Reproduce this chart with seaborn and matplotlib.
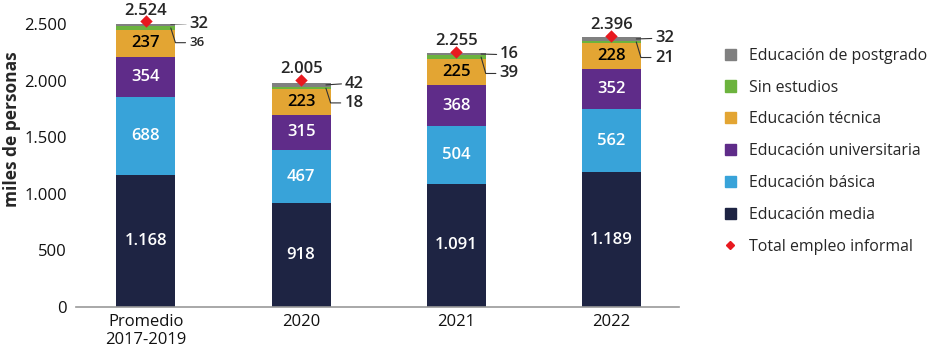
import numpy as np
import pandas as pd
import matplotlib.pyplot as plt
import seaborn as sns
from matplotlib.lines import Line2D
from matplotlib.patches import Patch

# datos (miles de personas)
periods = ["Promedio\n2017-2019", "2020", "2021", "2022"]
media = [1168, 918, 1091, 1189]
basica = [688, 467, 504, 562]
univ = [354, 315, 368, 352]
tecnica = [237, 223, 225, 228]
sin_est = [36, 18, 39, 21]
postgrado = [32, 42, 16, 32]
total = [2524, 2005, 2255, 2396]

layers = [
    ("Educación media", media, "#1e2443", "white"),
    ("Educación básica", basica, "#38a3d9", "white"),
    ("Educación universitaria", univ, "#5f2c89", "white"),
    ("Educación técnica", tecnica, "#e3a533", "black"),
    ("Sin estudios", sin_est, "#6cb33e", None),
    ("Educación de postgrado", postgrado, "#808080", None),
]

def fmt(v):
    return f"{v:,}".replace(",", ".")

sns.set_style("white")
plt.rcParams['font.family'] = ['Open Sans', 'DejaVu Sans']

fig = plt.figure(figsize=(9.3, 3.52), dpi=100)
ax = fig.add_axes([0.0812, 0.1278, 0.649, 0.804])

W = 0.38
FS = 12
cum = np.cumsum([l[1] for l in layers], axis=0)
# barras apiladas: se dibuja la suma acumulada de arriba hacia abajo
for i in range(len(layers) - 1, -1, -1):
    name, vals, col, tc = layers[i]
    sns.barplot(x=periods, y=cum[i], color=col, width=W, ax=ax,
                saturation=1, linewidth=0)

# etiquetas internas
for i, (name, vals, col, tc) in enumerate(layers[:4]):
    base = cum[i] - np.array(vals)
    for j, v in enumerate(vals):
        ax.text(j, base[j] + v / 2, fmt(v), ha="center", va="center",
                color=tc, fontsize=FS, fontweight="semibold")

# etiquetas pequeñas con líneas guía
edge = W / 2
for j in range(len(periods)):
    top = cum[5][j]
    y_pg = top - 12
    y_se = top - 180
    xe = j + edge
    ax.plot([xe - 0.03, xe + 0.07], [top - postgrado[j] / 2, y_pg], color="#333333", lw=0.8)
    ax.text(xe + 0.09, y_pg, fmt(postgrado[j]), ha="left", va="center",
            fontsize=FS, fontweight="semibold")
    ymid = cum[4][j] - sin_est[j] / 2
    ax.plot([xe - 0.03, xe + 0.0, xe + 0.065], [ymid, y_se, y_se], color="#333333", lw=0.8)
    ax.text(xe + 0.09, y_se, fmt(sin_est[j]), ha="left", va="center",
            fontsize=FS if j else 9.5, fontweight="semibold")

# total empleo informal
ax.scatter(np.arange(len(periods)), total, marker="D", s=40, color="#e8191f",
           zorder=5, clip_on=False, linewidths=0)
for j, t in enumerate(total):
    ax.text(j, t + 95, fmt(t), ha="center", va="center", fontsize=FS,
            fontweight="semibold", clip_on=False)

ax.set_xlim(-0.454, 3.436)
ax.set_ylim(0, 2500)
ax.set_yticks(np.arange(0, 2501, 500))
ax.set_yticklabels([fmt(v) for v in range(0, 2501, 500)])
ax.tick_params(axis="both", length=0, labelsize=12, colors="#111111")
ax.tick_params(axis="y", pad=6)
ax.tick_params(axis="x", pad=5)
ax.set_ylabel("miles de personas", fontsize=12.5, fontweight="bold")
ax.yaxis.set_label_coords(-0.091, 0.63)
ax.set_xlabel("")
sns.despine(ax=ax, left=True)
ax.spines["bottom"].set_color("#999999")
ax.spines["bottom"].set_linewidth(1.2)

handles = [Patch(color=l[2], label=l[0]) for l in layers[::-1]]
handles.append(Line2D([], [], marker="D", color="#e8191f", ls="none",
                      markersize=4.5, label="Total empleo informal"))
fig.legend(handles=handles, loc="upper left", bbox_to_anchor=(0.764, 0.905),
           frameon=False, fontsize=11.4, labelspacing=1.0, handlelength=0.7,
           handleheight=0.7, handletextpad=0.8)

fig.savefig("out.png", dpi=100)
